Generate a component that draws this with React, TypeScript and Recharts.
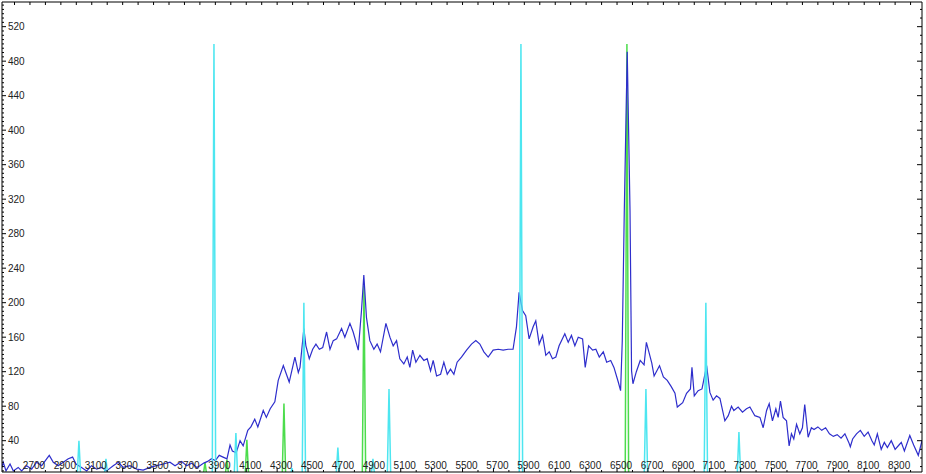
import { Line, LineChart, XAxis, YAxis } from "recharts";

// observed spectrum: [wavelength (Å), flux]
const spectrum: [number, number][] = [
  [2519, 9], [2527, 15], [2545, 5], [2571, 13], [2592, 5], [2624, 9], [2646, 5], [2679, 11],
  [2711, 7], [2743, 15], [2776, 11], [2808, 19], [2825, 23], [2851, 15], [2883, 11], [2916, 15],
  [2948, 19], [2976, 21], [2998, 13], [3034, 9], [3067, 5], [3099, 11], [3132, 7], [3164, 9],
  [3196, 5], [3239, 11], [3272, 15], [3304, 9], [3347, 11], [3391, 7], [3433, 6], [3477, 9],
  [3520, 11], [3563, 13], [3606, 15], [3639, 11], [3682, 16], [3714, 11], [3747, 14], [3779, 9],
  [3800, 11], [3825, 14], [3850, 16], [3875, 19], [3900, 17], [3925, 23], [3950, 21], [3975, 19],
  [3995, 35], [4010, 28], [4035, 26], [4060, 40], [4080, 34], [4110, 52], [4130, 56], [4155, 65],
  [4175, 56], [4210, 75], [4230, 67], [4255, 77], [4285, 85], [4307, 110], [4340, 127], [4360, 117],
  [4378, 108], [4415, 137], [4437, 119], [4448, 125], [4473, 170], [4486, 150], [4508, 135], [4530, 146],
  [4551, 152], [4573, 146], [4595, 148], [4620, 166], [4642, 146], [4663, 156], [4685, 158], [4717, 170],
  [4738, 160], [4771, 176], [4792, 166], [4825, 145], [4846, 191], [4861, 232], [4878, 183], [4900, 156],
  [4926, 146], [4947, 152], [4969, 143], [5004, 176], [5030, 160], [5051, 150], [5073, 156], [5094, 135],
  [5120, 129], [5142, 137], [5159, 125], [5177, 145], [5198, 131], [5224, 139], [5250, 133], [5271, 135],
  [5293, 121], [5310, 133], [5332, 115], [5358, 117], [5379, 131], [5401, 117], [5422, 123], [5444, 117],
  [5465, 131], [5493, 137], [5526, 145], [5558, 152], [5586, 156], [5612, 152], [5638, 143], [5666, 137],
  [5698, 145], [5731, 146], [5763, 145], [5795, 146], [5827, 146], [5849, 172], [5866, 212], [5888, 191],
  [5909, 185], [5931, 158], [5957, 172], [5974, 179], [5996, 152], [6018, 162], [6039, 139], [6061, 143],
  [6082, 135], [6104, 137], [6125, 150], [6162, 164], [6184, 154], [6205, 162], [6227, 150], [6249, 160],
  [6277, 158], [6294, 125], [6316, 150], [6342, 145], [6363, 146], [6385, 137], [6411, 143], [6433, 131],
  [6459, 133], [6480, 125], [6508, 108], [6523, 98], [6534, 156], [6547, 307], [6566, 491], [6584, 307],
  [6594, 121], [6603, 106], [6625, 120], [6650, 133], [6675, 128], [6690, 154], [6725, 130], [6740, 115],
  [6775, 127], [6800, 114], [6825, 110], [6850, 103], [6875, 95], [6890, 79], [6925, 84], [6950, 95],
  [6975, 100], [6985, 125], [7000, 92], [7025, 98], [7050, 100], [7080, 127], [7101, 96], [7122, 87],
  [7144, 92], [7166, 89], [7198, 63], [7220, 69], [7241, 80], [7256, 75], [7284, 79], [7312, 73],
  [7338, 77], [7360, 79], [7392, 69], [7425, 67], [7446, 55], [7468, 75], [7485, 83], [7506, 63],
  [7528, 77], [7543, 67], [7558, 86], [7575, 67], [7597, 63], [7614, 34], [7629, 48], [7644, 42],
  [7662, 59], [7683, 48], [7700, 55], [7715, 82], [7737, 44], [7758, 55], [7775, 53], [7800, 56],
  [7825, 52], [7850, 55], [7875, 48], [7900, 45], [7925, 47], [7950, 43], [7975, 48], [8000, 38],
  [8010, 33], [8025, 42], [8050, 48], [8075, 52], [8100, 45], [8125, 50], [8150, 40], [8165, 35],
  [8185, 48], [8210, 30], [8230, 38], [8250, 32], [8275, 40], [8300, 30], [8325, 35], [8340, 38],
  [8360, 28], [8395, 46], [8420, 35], [8450, 23], [8474, 40],
];

// line markers: [wavelength (Å), peak]
const cyanLines: [number, number][] = [
  [3017, 40], [3192, 19], [3891, 500], [4033, 49], [4396, 8], [4473, 200], [4693, 32],
  [4920, 19], [5024, 100], [5878, 500], [6687, 100], [7075, 200], [7289, 50],
];
const greenLines: [number, number][] = [
  [3833, 15], [3975, 18], [4104, 41], [4344, 83], [4862, 220], [6564, 500],
];

const xLabels = [
  2700, 2900, 3100, 3300, 3500, 3700, 3900, 4100, 4300, 4500, 4700, 4900, 5100, 5300, 5500,
  5700, 5900, 6100, 6300, 6500, 6700, 6900, 7100, 7300, 7500, 7700, 7900, 8100, 8300,
];
const yLabels = [40, 80, 120, 160, 200, 240, 280, 320, 360, 400, 440, 480, 520];

// every 100 Å / every 5 and 10 flux units, for the minor ticks
const xTicks = Array.from({ length: 59 }, (_, i) => 2600 + i * 100);
const yTicksLeft = Array.from({ length: 109 }, (_, i) => 5 + i * 5);
const yTicksRight = Array.from({ length: 54 }, (_, i) => 10 + i * 10);

const xDomain: [number, number] = [2519, 8474];
const yDomain: [number, number] = [3.7, 548.6];

const spectrumData = spectrum.map(([w, v]) => ({ w, v }));
const spikes = (lines: [number, number][]) =>
  lines.flatMap(([w, v]) => [
    { w: w - 11, v: 0 },
    { w, v },
    { w: w + 11, v: 0 },
  ]);

const labelFont = { fontFamily: "Liberation Sans", fontSize: 10, fill: "#222" };

function BottomTick({ x, y, payload }: any) {
  const major = xLabels.includes(payload.value);
  return (
    <g>
      <line x1={x} x2={x} y1={y} y2={y - (major ? 4 : 2)} stroke="#000" />
      {major && (
        <text x={x + 4} y={y - 3} textAnchor="middle" {...labelFont}>
          {payload.value}
        </text>
      )}
    </g>
  );
}

function TopTick({ x, y }: any) {
  return <line x1={x} x2={x} y1={y} y2={y + 3} stroke="#000" />;
}

function LeftTick({ x, y, payload }: any) {
  const major = yLabels.includes(payload.value);
  return (
    <g>
      <line x1={x} x2={x + (major ? 4 : 2)} y1={y} y2={y} stroke="#000" />
      {major && (
        <text x={x + 6} y={y} dominantBaseline="central" textAnchor="start" {...labelFont}>
          {payload.value}
        </text>
      )}
    </g>
  );
}

function RightTick({ x, y, payload }: any) {
  const major = yLabels.includes(payload.value);
  return <line x1={x} x2={x - (major ? 5 : 2)} y1={y} y2={y} stroke="#000" />;
}

export default function App() {
  return (
    <div style={{ position: "absolute", left: 0, top: 0, width: 926, height: 474, background: "#fff" }}>
      <LineChart width={926} height={474} margin={{ top: 2, right: 4, bottom: 2, left: 2 }}>
        <XAxis
          type="number"
          dataKey="w"
          domain={xDomain}
          allowDataOverflow
          ticks={xTicks}
          interval={0}
          mirror
          tickSize={0}
          tickMargin={0}
          tickLine={false}
          tick={<BottomTick />}
          stroke="#000"
        />
        <XAxis
          xAxisId="top"
          orientation="top"
          type="number"
          dataKey="w"
          domain={xDomain}
          allowDataOverflow
          ticks={xTicks}
          interval={0}
          mirror
          tickSize={0}
          tickMargin={0}
          tickLine={false}
          tick={<TopTick />}
          stroke="#000"
        />
        <YAxis
          type="number"
          domain={yDomain}
          allowDataOverflow
          ticks={yTicksLeft}
          interval={0}
          mirror
          tickSize={0}
          tickMargin={0}
          tickLine={false}
          tick={<LeftTick />}
          stroke="#000"
        />
        <YAxis
          yAxisId="right"
          orientation="right"
          type="number"
          domain={yDomain}
          allowDataOverflow
          ticks={yTicksRight}
          interval={0}
          mirror
          tickSize={0}
          tickMargin={0}
          tickLine={false}
          tick={<RightTick />}
          stroke="#000"
        />
        <Line
          data={spikes(greenLines)}
          dataKey="v"
          type="linear"
          stroke="#4cdc4c"
          strokeWidth={1.5}
          dot={false}
          isAnimationActive={false}
        />
        <Line
          data={spectrumData}
          dataKey="v"
          type="linear"
          stroke="#2e2ecc"
          strokeWidth={1.2}
          dot={false}
          isAnimationActive={false}
        />
        <Line
          data={spikes(cyanLines)}
          dataKey="v"
          type="linear"
          stroke="#4de6f0"
          strokeWidth={1.5}
          dot={false}
          isAnimationActive={false}
        />
      </LineChart>
    </div>
  );
}
